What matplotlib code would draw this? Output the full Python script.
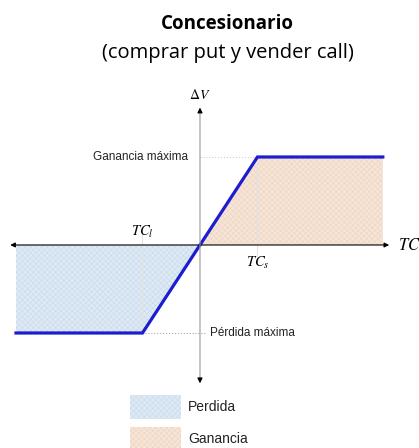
import matplotlib.pyplot as plt
from matplotlib.patches import Patch

# Payoff of the dealer position (buy put, sell call), in strike units
payoff_x = [-3.2, -1.0, 1.0, 3.18]
payoff_y = [-1.0, -1.0, 1.0, 1.0]
strike_low = -1.0
strike_high = 1.0
max_gain = 1.0
max_loss = -1.0
axis_x_ends = [-3.3, 3.29]
axis_y_ends = [-1.57, 1.56]

title = "Concesionario"
subtitle = "(comprar put y vender call)"
legend_labels = ["Perdida", "Ganancia"]

loss_color = "#dde9f4"
gain_color = "#f6e4d6"
line_color = "#1c1cd0"

plt.rcParams["mathtext.fontset"] = "stix"
plt.rcParams["hatch.linewidth"] = 0.3

fig = plt.figure(figsize=(4.19, 4.48), dpi=100)
ax = fig.add_axes([0, 0, 1, 1])
ax.set_xlim(-3.478, 3.809)
ax.set_ylim(-2.307, 2.784)
ax.axis("off")

fig.text(0.543, 0.946, title, ha="center", va="center", fontsize=13.5,
         fontweight="bold", family="Open Sans")
fig.text(0.543, 0.882, subtitle, ha="center", va="center", fontsize=14.5,
         family="Open Sans")

# shaded regions between the payoff and the horizontal axis
ax.fill_between(payoff_x[:3], payoff_y[:3], 0,
                facecolor=loss_color, edgecolor="#c4d6e8", hatch="xxxxxx",
                linewidth=0)
ax.fill_between([0, payoff_x[2], payoff_x[3]], [0, payoff_y[2], payoff_y[3]], 0,
                facecolor=gain_color, edgecolor="#ead0bd", hatch="xxxxxx",
                linewidth=0)
# cover the loss wedge right of zero
ax.fill_between([0, 0.6], [0, 0], [0, -0.6], facecolor="white", linewidth=0)

# guide lines
ax.plot([strike_low, strike_low], [max_loss, 0.12], color="#e2e2e2", lw=0.8)
ax.plot([strike_high, strike_high], [-0.12, max_gain], color="#e2e2e2", lw=0.8)
ax.plot([0, strike_high], [max_gain, max_gain], color="#cfcfcf", lw=0.8, ls=":")
ax.plot([strike_low, 0.1], [max_loss, max_loss], color="#aaaaaa", lw=0.8, ls=":")

# axes with arrows
ax.annotate("", xy=(axis_x_ends[1], 0), xytext=(axis_x_ends[0], 0),
            arrowprops=dict(arrowstyle="<|-|>", color="black", lw=0.8,
                            mutation_scale=7, shrinkA=0, shrinkB=0))
ax.annotate("", xy=(0, axis_y_ends[1]), xytext=(0, axis_y_ends[0]),
            arrowprops=dict(arrowstyle="<|-|>", color="#999999", lw=0.8,
                            mutation_scale=7, shrinkA=0, shrinkB=0))
ax.annotate("", xy=(0, axis_y_ends[1]), xytext=(0, axis_y_ends[1] - 0.05),
            arrowprops=dict(arrowstyle="-|>", color="black", lw=0.8,
                            mutation_scale=7, shrinkA=0, shrinkB=0))
ax.annotate("", xy=(0, axis_y_ends[0]), xytext=(0, axis_y_ends[0] + 0.05),
            arrowprops=dict(arrowstyle="-|>", color="black", lw=0.8,
                            mutation_scale=7, shrinkA=0, shrinkB=0))

ax.plot(payoff_x, payoff_y, color=line_color, lw=2.3, solid_joinstyle="miter")

ax.text(0, 1.7, r"$\Delta V$", ha="center", va="center", fontsize=10)
ax.text(3.44, 0.0, r"$TC$", ha="left", va="center", fontsize=12)
ax.text(strike_low, 0.15, r"$TC_l$", ha="center", va="center", fontsize=10.5)
ax.text(strike_high, -0.2, r"$TC_s$", ha="center", va="center", fontsize=10.5)
ax.text(-0.2, max_gain, "Ganancia máxima", ha="right", va="center",
        fontsize=8.5, family="Liberation Sans", color="#222222")
ax.text(0.17, max_loss, "Pérdida máxima", ha="left", va="center",
        fontsize=8.5, family="Liberation Sans", color="#222222")

handles = [Patch(facecolor=loss_color, edgecolor="#c4d6e8", hatch="xxxxxx", lw=0),
           Patch(facecolor=gain_color, edgecolor="#ead0bd", hatch="xxxxxx", lw=0)]
leg = fig.legend(handles, legend_labels, loc="upper left",
                 bbox_to_anchor=(130 / 419, 1 - 395 / 448), frameon=False,
                 borderpad=0, borderaxespad=0, handlelength=3.7,
                 handleheight=2.3, handletextpad=0.5, labelspacing=0.55,
                 prop={"family": "Liberation Sans", "size": 10})
for t in leg.get_texts():
    t.set_color("#222222")

fig.savefig("out.png", dpi=100)
